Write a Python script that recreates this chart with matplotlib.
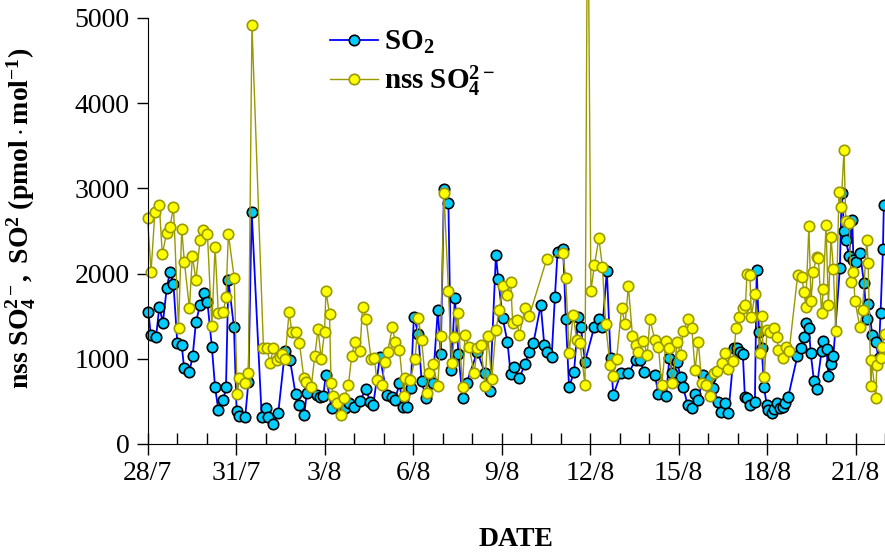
import numpy as np
import matplotlib
matplotlib.use("Agg")
import matplotlib.pyplot as plt
from matplotlib.ticker import FixedLocator, MultipleLocator

plt.rcParams["font.family"] = ["Liberation Serif", "DejaVu Serif"]
plt.rcParams["mathtext.fontset"] = "custom"
plt.rcParams["mathtext.rm"] = "Liberation Serif"
plt.rcParams["mathtext.bf"] = "Liberation Serif:bold"
plt.rcParams["mathtext.it"] = "Liberation Serif:italic"

# days since 28/7 and mixing ratios (pmol/mol)
so2_day = [0.03, 0.11, 0.29, 0.40, 0.52, 0.65, 0.76, 0.88, 1.01, 1.16, 1.24, 1.42,
           1.53, 1.64, 1.78, 1.92, 2.03, 2.18, 2.29, 2.40, 2.57, 2.66, 2.74, 2.93,
           3.02, 3.11, 3.31, 3.42, 3.53, 3.87, 4.00, 4.10, 4.27, 4.43, 4.66, 4.83,
           5.02, 5.14, 5.31, 5.40, 5.74, 5.85, 5.96, 6.04, 6.24, 6.41, 6.69, 6.83,
           7.01, 7.20, 7.41, 7.54, 7.65, 7.88, 8.11, 8.28, 8.39, 8.54, 8.67, 8.81,
           8.92, 9.03, 9.18, 9.29, 9.44, 9.67, 9.84, 9.94, 10.05, 10.20, 10.29, 10.42,
           10.54, 10.68, 10.82, 11.18, 11.44, 11.61, 11.81, 11.89, 12.04, 12.20, 12.31, 12.42,
           12.60, 12.80, 12.93, 13.08, 13.33, 13.45, 13.55, 13.70, 13.81, 13.90, 14.09, 14.18,
           14.29, 14.46, 14.60, 14.69, 14.83, 15.14, 15.30, 15.42, 15.57, 15.70, 15.79, 16.05,
           16.30, 16.55, 16.69, 16.83, 17.20, 17.32, 17.58, 17.69, 17.79, 17.96, 18.07, 18.16,
           18.31, 18.45, 18.56, 18.67, 18.84, 18.95, 19.07, 19.18, 19.35, 19.43, 19.58, 19.69,
           19.89, 19.97, 20.08, 20.18, 20.25, 20.33, 20.42, 20.59, 20.65, 20.73, 20.82, 20.90,
           20.99, 21.05, 21.16, 21.25, 21.33, 21.44, 21.55, 21.61, 21.72, 22.03, 22.15, 22.27,
           22.31, 22.42, 22.48, 22.59, 22.68, 22.85, 22.91, 23.02, 23.08, 23.17, 23.25, 23.47,
           23.53, 23.62, 23.67, 23.78, 23.89, 23.93, 24.00, 24.15, 24.29, 24.38, 24.43, 24.57,
           24.68, 24.78, 24.85, 24.93, 24.96]
so2_val = [1553, 1279, 1260, 1612, 1424, 1827, 2023, 1874, 1182, 1162, 888, 849,
           1033, 1428, 1631, 1776, 1670, 1142, 665, 399, 516, 665, 1925, 1370,
           387, 332, 313, 731, 2727, 320, 419, 320, 231, 360, 1095, 986,
           583, 458, 340, 602, 575, 555, 563, 810, 419, 478, 419, 485,
           438, 508, 646, 497, 458, 1025, 575, 555, 516, 712, 438, 438,
           653, 1494, 1291, 743, 536, 712, 1573, 1056, 2989, 2825, 869, 1710,
           1056, 536, 720, 1083, 830, 622, 2218, 1933, 1475, 1201, 822, 908,
           771, 939, 1083, 1182, 1631, 1162, 1083, 1025, 1729, 2257, 2289, 1463,
           665, 849, 1494, 1370, 966, 1370, 1463, 1370, 2031, 1006, 575, 830,
           830, 986, 986, 849, 810, 583, 567, 1006, 830, 959, 783, 665,
           458, 419, 583, 516, 810, 692, 771, 653, 497, 380, 478, 360,
           1123, 1123, 1083, 1056, 555, 536, 458, 497, 2042, 1311, 1123, 665,
           458, 399, 360, 407, 478, 419, 438, 485, 555, 1033, 1123, 1260,
           1424, 1365, 1072, 743, 642, 1092, 1213, 1111, 798, 939, 1033, 2062,
           2942, 2504, 2394, 2207, 2629, 2160, 2140, 2245, 1886, 1463, 1643, 1279,
           1201, 1006, 1541, 2285, 2805]

so4_day = [0.00, 0.12, 0.25, 0.40, 0.50, 0.65, 0.76, 0.88, 1.05, 1.16, 1.25, 1.42,
           1.52, 1.64, 1.78, 1.89, 2.03, 2.18, 2.29, 2.40, 2.57, 2.66, 2.74, 2.94,
           3.04, 3.11, 3.31, 3.42, 3.54, 3.93, 4.05, 4.15, 4.27, 4.38, 4.49, 4.55,
           4.66, 4.80, 4.89, 5.03, 5.15, 5.30, 5.38, 5.55, 5.67, 5.78, 5.89, 6.00,
           6.05, 6.17, 6.22, 6.30, 6.41, 6.55, 6.66, 6.81, 6.92, 7.03, 7.20, 7.29,
           7.41, 7.58, 7.69, 7.77, 7.94, 8.05, 8.14, 8.30, 8.40, 8.54, 8.69, 8.73,
           8.90, 9.07, 9.18, 9.29, 9.46, 9.55, 9.67, 9.84, 9.94, 10.05, 10.20, 10.31,
           10.40, 10.52, 10.68, 10.76, 10.90, 11.07, 11.18, 11.30, 11.44, 11.53, 11.67, 11.81,
           11.93, 12.04, 12.20, 12.31, 12.38, 12.52, 12.60, 12.80, 12.94, 13.53, 14.07, 14.18,
           14.29, 14.43, 14.55, 14.66, 14.83, 14.92, 15.03, 15.15, 15.30, 15.42, 15.53, 15.68,
           15.79, 15.90, 16.07, 16.19, 16.30, 16.44, 16.55, 16.64, 16.81, 16.94, 17.03, 17.20,
           17.32, 17.43, 17.58, 17.69, 17.79, 17.96, 18.07, 18.16, 18.33, 18.45, 18.56, 18.67,
           18.79, 18.93, 19.07, 19.20, 19.32, 19.47, 19.58, 19.69, 19.86, 19.95, 20.06, 20.18,
           20.27, 20.32, 20.42, 20.47, 20.59, 20.75, 20.82, 20.91, 21.00, 21.10, 21.25, 21.35,
           21.38, 21.53, 21.66, 21.75, 22.04, 22.17, 22.26, 22.31, 22.42, 22.49, 22.57, 22.68,
           22.74, 22.85, 22.91, 23.00, 23.08, 23.17, 23.25, 23.33, 23.44, 23.51, 23.61, 23.67,
           23.78, 23.85, 23.93, 23.98, 24.15, 24.24, 24.38, 24.43, 24.52, 24.54, 24.69, 24.72,
           24.85, 24.90, 24.99]
so4_val = [2649, 2023, 2727, 2805, 2227, 2480, 2543, 2785, 1365, 2523, 2133, 1593,
           2207, 1925, 2394, 2512, 2465, 1385, 2316, 1534, 1553, 1722, 2465, 1945,
           583, 771, 712, 837, 4918, 1123, 1123, 947, 1123, 986, 1025, 1056,
           1000, 1553, 1311, 1311, 1182, 771, 731, 673, 1033, 1350, 994, 1318,
           1796, 1522, 720, 563, 485, 340, 536, 692, 1033, 1201, 1092, 1612,
           1463, 994, 1006, 751, 692, 959, 1083, 1370, 1201, 1103, 567, 771,
           751, 994, 1475, 1221, 602, 837, 939, 681, 1271, 2950, 1796, 947,
           1252, 1541, 665, 1279, 1142, 830, 1123, 1162, 681, 1271, 759, 1338,
           1573, 1858, 1749, 1905, 1416, 1455, 1279, 1593, 1502, 2168, 2238, 1945,
           1072, 1514, 1221, 1182, 692, 7000, 1796, 2101, 2414, 2081, 1405, 927,
           802, 994, 1593, 1408, 1854, 1268, 1162, 1076, 1213, 1045, 1463, 1221,
           1142, 692, 1213, 1123, 712, 1201, 1045, 1330, 1463, 1365, 869, 1201,
           712, 692, 567, 837, 861, 947, 1072, 880, 978, 1365, 1494, 1593,
           1631, 1995, 1984, 1494, 1760, 1072, 1502, 790, 1338, 1318, 1358, 1260,
           1103, 1006, 1142, 1092, 1984, 1964, 1788, 1612, 2559, 1682, 2015, 2199,
           2180, 1541, 1816, 2570, 1631, 2426, 2054, 1326, 2962, 2778, 3451, 2621,
           2598, 1905, 2023, 1682, 1370, 1573, 2394, 2128, 681, 986, 536, 927,
           1006, 1142, 1291]

tick_days = [0, 3, 6, 9, 12, 15, 18, 21, 24]
tick_labels = ["28/7", "31/7", "3/8", "6/8", "9/8", "12/8", "15/8", "18/8", "21/8"]

fig = plt.figure(figsize=(8.85, 5.57), dpi=100)
ax = fig.add_axes([0.1667, 0.2029, 0.8333, 0.7648])

ax.plot(so2_day, so2_val, "-", color="#0000ff", lw=1.3, marker="o", ms=7.5,
        mfc="#00ccff", mec="black", mew=1.2, clip_on=False, label=r"$\mathbf{SO_2}$")
ax.plot(so4_day, so4_val, "-", color="#999900", lw=1.0, marker="o", ms=7.5,
        mfc="#ffff00", mec="#999900", mew=1.2, clip_on=False,
        label=r"$\mathbf{nss\ SO_4^{2-}}$")

ax.set_xlim(0, 25)
ax.set_ylim(0, 5000)
ax.xaxis.set_major_locator(FixedLocator(tick_days))
ax.set_xticklabels(tick_labels)
ax.xaxis.set_minor_locator(MultipleLocator(1))
ax.yaxis.set_major_locator(MultipleLocator(1000))

for s in ["top", "right"]:
    ax.spines[s].set_visible(False)
ax.tick_params(axis="x", which="major", direction="inout", length=16, width=1,
               labelsize=20, pad=4)
ax.tick_params(axis="x", which="minor", direction="in", length=8, width=1)
ax.tick_params(axis="y", which="major", direction="out", length=8, width=1,
               labelsize=20, pad=5)

ax.set_xlabel("DATE", fontsize=20, fontweight="bold", labelpad=30)
ax.set_ylabel(r"$\mathbf{nss\ SO_4^{2-},\ SO^2\ (pmol\cdot mol^{-1})}$",
              fontsize=20)
ax.yaxis.set_label_coords(-0.148, 0.53)

ax.legend(loc="upper left", bbox_to_anchor=(0.3435, 0.995), bbox_transform=fig.transFigure,
          frameon=False, fontsize=21, handlelength=1.65, labelspacing=0.25,
          handletextpad=0.2)

fig.savefig("out.png", dpi=100)
